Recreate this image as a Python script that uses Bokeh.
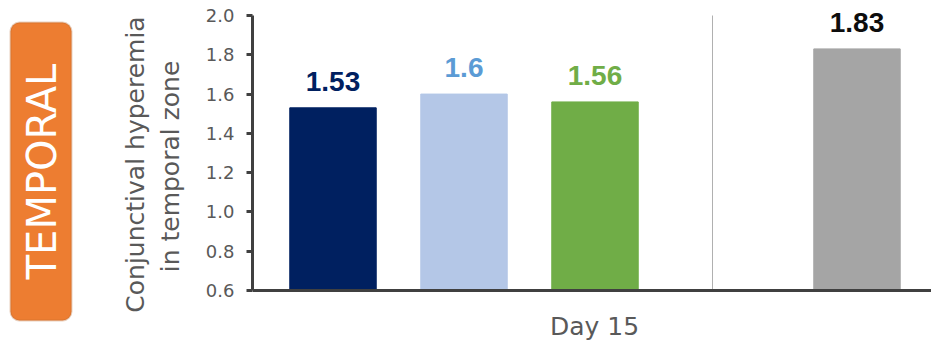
from bokeh.plotting import figure
from bokeh.layouts import row
from bokeh.models import (ColumnDataSource, LabelSet, Label, Span, BoxAnnotation, Range1d,
                          FixedTicker, CustomJSTickFormatter)
from bokeh.core.properties import value
from bokeh.embed import file_html
from bokeh.resources import INLINE

# ---- data ----
groups = ["Group 1", "Group 2", "Group 3", "Comparator"]
values = [1.53, 1.6, 1.56, 1.83]
value_labels = ["1.53", "1.6", "1.56", "1.83"]
y_ticks = [0.6, 0.8, 1.0, 1.2, 1.4, 1.6, 1.8, 2.0]
x_label = "Day 15"
y_label_lines = ["Conjunctival hyperemia", "in temporal zone"]
panel_title = "TEMPORAL"

# ---- layout / style ----
slots = [0, 1, 2, 4]
bar_colors = ["#002060", "#B4C7E7", "#70AD47", "#A5A5A5"]
label_colors = ["#002060", "#5B9BD5", "#70AD47", "#0D0D0D"]
W, H = 931, 343
LW = 195                      # width of left panel figure
FL, FR, FT, FB = 252, 931, 15, 290   # plotting area (canvas px)
X0, X1 = -0.6145, 4.5687
YMIN, YMAX = 0.6, 2.0
GRAY = "#595959"
AXIS = "#404040"

ppu = (FB - FT) / (YMAX - YMIN)          # pixels per y unit
Y0 = YMIN - (H - FB) / ppu               # y at bottom of canvas
Y1 = YMAX + FT / ppu                     # y at top of canvas

def px_x(sx):
    return X0 + (sx - FL) / (FR - FL) * (X1 - X0)

def px_y(sy):
    return YMIN + (FB - sy) / ppu

# ---------- left panel (title box + y label) ----------
left = figure(width=LW, height=H, output_backend="svg", toolbar_location=None,
              x_range=Range1d(0, LW), y_range=Range1d(H, 0),
              min_border=0, x_axis_type=None, y_axis_type=None)
left.outline_line_color = None
left.xgrid.visible = False
left.ygrid.visible = False
left.add_layout(BoxAnnotation(left=10, right=71, top=22, bottom=320,
                              fill_color="#ED7D31", fill_alpha=1.0, line_color="#B4622B",
                              line_width=2, border_radius=9))
left.add_layout(Label(x=41, y=171, text=panel_title, angle=90, angle_units="deg",
                      text_font="DejaVu Sans", text_font_size="40px", text_color="white",
                      text_align="center", text_baseline="middle"))
for cx, cy, t in [(135, 164, y_label_lines[0]), (170, 166, y_label_lines[1])]:
    left.add_layout(Label(x=cx, y=cy, text=t, angle=90, angle_units="deg",
                          text_font="DejaVu Sans", text_font_size="25px", text_color=GRAY,
                          text_align="center", text_baseline="middle"))

# ---------- main chart ----------
src = ColumnDataSource(dict(x=slots, top=values, color=bar_colors,
                            label=value_labels, lcolor=label_colors))

p = figure(width=W - LW, height=H, output_backend="svg", toolbar_location=None,
           x_range=Range1d(X0, X1), y_range=Range1d(Y0, Y1),
           min_border_left=FL - LW, min_border_right=0, min_border_top=0,
           min_border_bottom=0, x_axis_type=None)
p.outline_line_color = None
p.xgrid.visible = False
p.ygrid.visible = False

p.vbar(x="x", top="top", bottom=YMIN, width=0.66, color="color", source=src)

p.add_layout(LabelSet(x="x", y="top", text="label", text_color="lcolor", source=src,
                      text_font=value("Liberation Sans"), text_font_style="bold",
                      text_font_size="28px", text_align="center",
                      text_baseline="alphabetic", y_offset=17))

# separator line between groups
sep_x = px_x(712)
p.segment(x0=[sep_x], y0=[YMIN], x1=[sep_x], y1=[YMAX], line_color="#B0B0B0", line_width=1)

# x axis line (baseline)
p.add_layout(Span(location=YMIN, dimension="width", line_color=AXIS, line_width=3))

p.yaxis.bounds = (YMIN, YMAX)
p.yaxis.ticker = FixedTicker(ticks=y_ticks)
p.yaxis.formatter = CustomJSTickFormatter(code="return tick.toFixed(1);")
p.yaxis.axis_line_color = AXIS
p.yaxis.axis_line_width = 3
p.yaxis.major_tick_line_color = AXIS
p.yaxis.major_tick_line_width = 3
p.yaxis.major_tick_out = 6
p.yaxis.major_tick_in = 0
p.yaxis.minor_tick_line_color = None
p.yaxis.major_label_text_font = "DejaVu Sans"
p.yaxis.major_label_text_font_size = "18px"
p.yaxis.major_label_text_color = GRAY
p.yaxis.major_label_standoff = 12

p.add_layout(Label(x=px_x(594), y=px_y(326), text=x_label, text_font="DejaVu Sans",
                   text_font_size="25px", text_color=GRAY, text_align="center",
                   text_baseline="middle"))

layout = row(left, p, spacing=0)
open("out.html", "w").write(file_html(layout, INLINE))
